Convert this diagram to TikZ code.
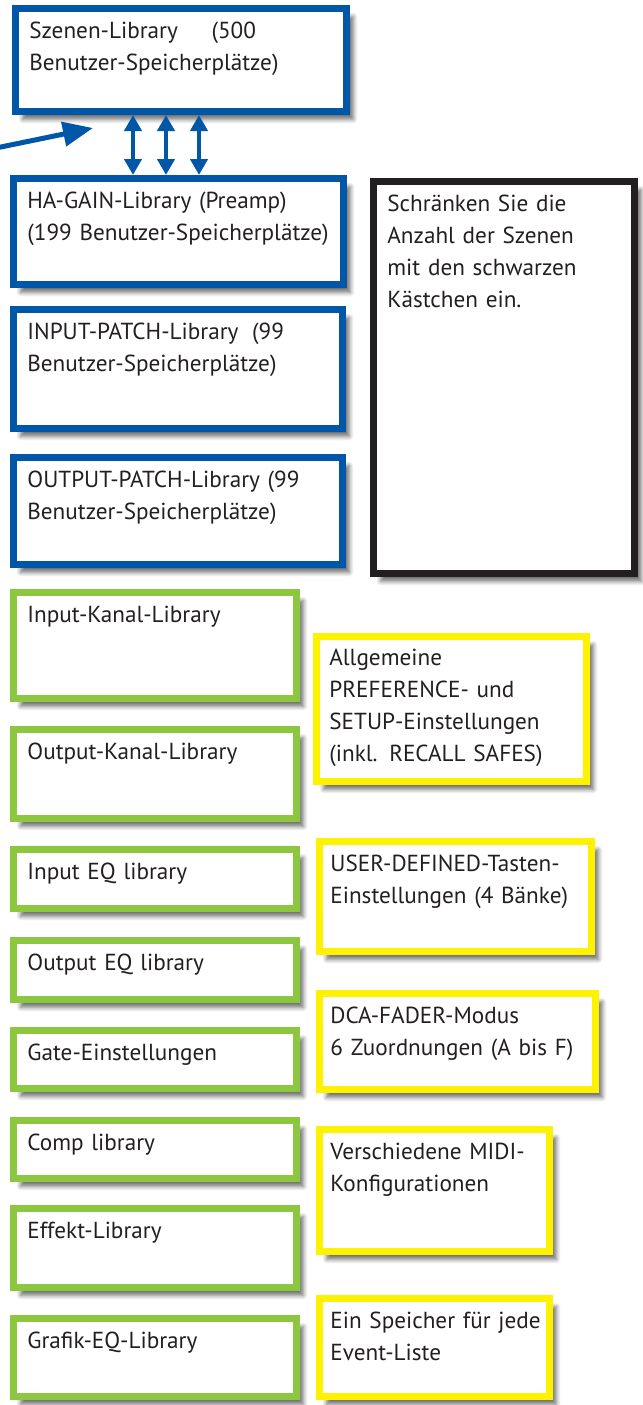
\documentclass[tikz,border=0pt]{standalone}
\usepackage{fontspec}
\setmainfont{PT Sans}
\usepackage{tikz}
\usetikzlibrary{arrows.meta}
\usetikzlibrary{shadows.blur}
\definecolor{frameblue}{RGB}{0,87,168}
\definecolor{framegreen}{RGB}{141,198,63}
\definecolor{frameyellow}{RGB}{255,242,0}
\definecolor{frameblack}{RGB}{35,31,32}
\definecolor{textgray}{RGB}{35,31,32}

\begin{document}
\begin{tikzpicture}[x=0.5pt,y=-0.5pt,
  libbox/.style={rectangle, line width=3.5pt, fill=white, inner sep=0pt,
    blur shadow={shadow xshift=3.5pt, shadow yshift=-4pt, shadow blur radius=2pt, shadow blur steps=6, shadow opacity=55}},
  bluebox/.style={libbox, draw=frameblue},
  greenbox/.style={libbox, draw=framegreen},
  yellowbox/.style={libbox, draw=frameyellow},
  blackbox/.style={libbox, draw=frameblack},
  boxtext/.style={anchor=base west, text width=220pt, align=left, inner sep=0pt, text=textgray, font=\fontsize{11.6}{16}\selectfont},
  dblarrow/.style={frameblue, line width=2pt, {Triangle[length=8pt,width=8.5pt]}-{Triangle[length=8pt,width=8.5pt]}},
  feedarrow/.style={frameblue, line width=2.5pt, -{Triangle[length=15pt,width=12pt]}}]
\useasboundingbox (0,0) rectangle (643,1405);

% blue libraries
\node[bluebox, minimum width=165.5pt, minimum height=51.5pt] (szenen) at (181,60) {};
\node[bluebox, minimum width=165pt, minimum height=53pt] (hagain) at (178.5,231.5) {};
\node[bluebox, minimum width=164.5pt, minimum height=59.5pt] (inpatch) at (178,369) {};
\node[bluebox, minimum width=164.5pt, minimum height=53.5pt] (outpatch) at (178,511) {};
% hint
\node[blackbox, minimum width=130.5pt, minimum height=196pt] (hint) at (504,377.5) {};
% green libraries
\node[greenbox, minimum width=141.5pt, minimum height=53pt] (inkanal) at (155,645.5) {};
\node[greenbox, minimum width=141.5pt, minimum height=44.5pt] (outkanal) at (155,774) {};
\node[greenbox, minimum width=141.5pt, minimum height=29.5pt] (ineq) at (155,879) {};
\node[greenbox, minimum width=141.5pt, minimum height=29.5pt] (outeq) at (155,970) {};
\node[greenbox, minimum width=141.5pt, minimum height=29pt] (gate) at (155,1059.5) {};
\node[greenbox, minimum width=141.5pt, minimum height=29pt] (comp) at (155,1149.5) {};
\node[greenbox, minimum width=141.5pt, minimum height=39.5pt] (effekt) at (155,1248) {};
\node[greenbox, minimum width=141.5pt, minimum height=39pt] (grafik) at (155,1357.5) {};
% yellow settings
\node[yellowbox, minimum width=135pt, minimum height=72.5pt] (prefs) at (451.5,709) {};
\node[yellowbox, minimum width=136pt, minimum height=55pt] (userkeys) at (455.5,896.5) {};
\node[yellowbox, minimum width=138pt, minimum height=48pt] (dca) at (457.5,1041.5) {};
\node[yellowbox, minimum width=115pt, minimum height=61pt] (midi) at (434.5,1190.5) {};
\node[yellowbox, minimum width=115pt, minimum height=49pt] (event) at (434.5,1347.5) {};

% texts
\node[boxtext] (szenen-txt) at ([shift={(8.5pt,-16.5pt)}]szenen.north west) {Szenen-Library\hspace*{13pt} (500\\Benutzer-Speicherplätze)};
\node[boxtext] (hagain-txt) at ([shift={(8.5pt,-16.5pt)}]hagain.north west) {HA-GAIN-Library (Preamp)\\(199 Benutzer-Speicherplätze)};
\node[boxtext] (inpatch-txt) at ([shift={(8.5pt,-16.5pt)}]inpatch.north west) {INPUT-PATCH-Library\hspace*{3pt} (99\\Benutzer-Speicherplätze)};
\node[boxtext] (outpatch-txt) at ([shift={(8.5pt,-16.5pt)}]outpatch.north west) {OUTPUT-PATCH-Library (99\\Benutzer-Speicherplätze)};
\node[boxtext] (hint-txt) at ([shift={(8.5pt,-16.5pt)}]hint.north west) {Schränken Sie die\\Anzahl der Szenen\\mit den schwarzen\\Kästchen ein.};
\node[boxtext] (inkanal-txt) at ([shift={(8.5pt,-16.5pt)}]inkanal.north west) {Input-Kanal-Library};
\node[boxtext] (outkanal-txt) at ([shift={(8.5pt,-16.5pt)}]outkanal.north west) {Output-Kanal-Library};
\node[boxtext] (ineq-txt) at ([shift={(8.5pt,-16.5pt)}]ineq.north west) {Input EQ library};
\node[boxtext] (outeq-txt) at ([shift={(8.5pt,-16.5pt)}]outeq.north west) {Output EQ library};
\node[boxtext] (gate-txt) at ([shift={(8.5pt,-16.5pt)}]gate.north west) {Gate-Einstellungen};
\node[boxtext] (comp-txt) at ([shift={(8.5pt,-16.5pt)}]comp.north west) {Comp library};
\node[boxtext] (effekt-txt) at ([shift={(8.5pt,-16.5pt)}]effekt.north west) {Effekt-Library};
\node[boxtext] (grafik-txt) at ([shift={(8.5pt,-16.5pt)}]grafik.north west) {Grafik-EQ-Library};
\node[boxtext] (prefs-txt) at ([shift={(8pt,-16pt)}]prefs.north west) {Allgemeine\\PREFERENCE- und\\SETUP-Einstellungen\\(inkl. RECALL SAFES)};
\node[boxtext] (userkeys-txt) at ([shift={(7pt,-16.5pt)}]userkeys.north west) {USER-DEFINED-Tasten-\\Einstellungen (4 Bänke)};
\node[boxtext] (dca-txt) at ([shift={(7pt,-16.5pt)}]dca.north west) {DCA-FADER-Modus\\6 Zuordnungen (A bis F)};
\node[boxtext] (midi-txt) at ([shift={(7pt,-16.5pt)}]midi.north west) {Verschiedene MIDI-\\Konfigurationen};
\node[boxtext] (event-txt) at ([shift={(7pt,-16.5pt)}]event.north west) {Ein Speicher für jede\\Event-Liste};

% connectors
\foreach \dx in {-24pt,-7.5pt,9pt}
  \draw[dblarrow] ([xshift=\dx]szenen.south) -- ([xshift=\dx]szenen.south |- hagain.north);
\coordinate (feed-in) at (-4,148);
\coordinate (feed-end) at (93,128);
\draw[feedarrow] (feed-in) -- (feed-end);
\end{tikzpicture}
\end{document}
